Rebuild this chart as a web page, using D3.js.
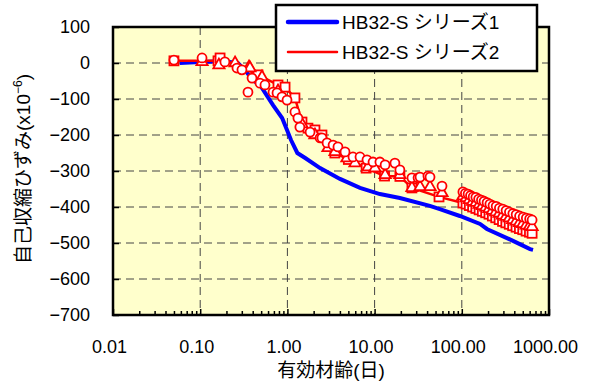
<!DOCTYPE html>
<html>
<head>
<meta charset="utf-8">
<script src="https://cdn.jsdelivr.net/npm/d3@7"></script>
<style>
  body { margin: 0; background: #fff; }
  text { font-family: "Liberation Sans", Arial, "Noto Sans CJK JP", sans-serif; }
</style>
</head>
<body>
<div id="chart"></div>
<script>
// series 1 (blue line)
let blueAge = [0.058, 0.1, 0.18, 0.27, 0.34, 0.40, 0.485, 0.684, 0.87, 1.0, 1.1, 1.3, 1.6, 2.37, 4.01, 6.8, 11.5, 19.5, 43, 56, 95, 162, 194, 387, 606, 656];
let blueVal = [0, 3, 5, 0, -25, -47, -61, -117, -153, -189, -214, -250, -264, -292, -322, -347, -364, -375, -397, -406, -425, -447, -461, -494, -517, -519];

// series 2 (red markers)
let sqAge = [0.050, 0.16, 0.169, 0.46, 0.78, 0.94, 1.22, 1.47, 1.72, 2.07, 2.49, 3.5, 5.0, 8.0, 13.0, 19.5, 26.8, 54.8,
  103, 112, 122, 133, 145, 158, 172, 188, 205, 224, 245, 268, 293, 320, 350, 383, 419, 458, 500, 546, 597, 640];
let sqVal = [6, 6, 14, -33, -61, -67, -97, -164, -181, -186, -200, -250, -268, -292, -314, -315, -347, -372,
  -389, -392, -396, -400, -404, -408, -412, -416, -420, -425, -430, -435, -440, -444, -448, -452, -456, -460, -463, -467, -470, -473];

let triAge = [0.105, 0.164, 0.251, 0.363, 0.372, 0.511, 0.78, 1.47, 2.07, 2.92, 3.52, 4.82, 5.96, 8.4, 10.1, 13.2, 19.5, 26.8, 33.2, 43.2, 59.3,
  103, 112, 122, 133, 145, 158, 172, 188, 205, 224, 245, 268, 293, 320, 350, 383, 419, 458, 500, 546, 597, 640];
let triVal = [3, -6, 0, -11, -14, -39, -78, -170, -200, -236, -247, -264, -278, -289, -292, -311, -311, -347, -344, -344, -361,
  -370, -375, -380, -385, -388, -393, -397, -401, -405, -410, -414, -418, -423, -427, -431, -436, -440, -444, -447, -451, -453, -455];

let cirAge = [0.050, 0.105, 0.192, 0.264, 0.301, 0.353, 0.393, 0.485, 0.553, 0.684, 0.76, 0.867, 0.99, 1.22, 1.32, 1.39, 1.82, 2.37, 2.49, 2.85, 3.34, 3.80, 4.58, 5.65, 6.8, 8.18, 9.59, 11.5, 13.2, 17.1, 19.5, 26.8, 31.5, 33.2, 40.9, 43.2, 59.3,
  103, 110, 118, 126, 135, 145, 156, 168, 180, 195, 210, 228, 248, 270, 295, 322, 352, 385, 420, 460, 505, 550, 600, 640];
let cirVal = [8, 14, 3, -14, -19, -81, -42, -56, -61, -81, -83, -94, -103, -136, -153, -178, -192, -208, -208, -222, -228, -233, -247, -261, -261, -269, -275, -275, -283, -278, -297, -319, -319, -317, -314, -317, -342,
  -358, -362, -364, -368, -372, -373, -378, -381, -384, -388, -392, -396, -398, -403, -406, -410, -414, -418, -421, -425, -428, -431, -433, -436];

let xMajor = [0.01, 0.1, 1, 10, 100, 1000];
let yTicks = [100, 0, -100, -200, -300, -400, -500, -600, -700];
let legendLabels = ["HB32-S シリーズ1", "HB32-S シリーズ2"];

let width = 594, height = 387;
let pLeft = 113, pRight = 549, pTop = 27, pBottom = 315;

let svg = d3.select("#chart").append("svg")
  .attr("width", width).attr("height", height);

let x = d3.scaleLog().domain([0.01, 1000]).range([pLeft, pRight]);
let y = d3.scaleLinear().domain([-700, 100]).range([pBottom, pTop]);

// plot background
svg.append("rect")
  .attr("x", pLeft).attr("y", pTop)
  .attr("width", pRight - pLeft).attr("height", pBottom - pTop)
  .attr("fill", "#ffffcc");

// grid
let grid = svg.append("g").attr("stroke", "#444").attr("stroke-dasharray", "8,5").attr("stroke-width", 1);
grid.selectAll(".gx").data(xMajor.slice(1, -1)).enter().append("line")
  .attr("x1", d => x(d)).attr("x2", d => x(d)).attr("y1", pTop).attr("y2", pBottom);
grid.selectAll(".gy").data(yTicks.slice(1, -1)).enter().append("line")
  .attr("y1", d => y(d)).attr("y2", d => y(d)).attr("x1", pLeft).attr("x2", pRight);

// minor ticks along bottom
let minors = [];
xMajor.slice(0, -1).forEach(m => { for (let k = 2; k <= 9; k++) minors.push(m * k); });

let fs = 18;
let xAxis = svg.append("g").attr("transform", `translate(0,${pBottom})`)
  .call(d3.axisBottom(x).tickValues(xMajor).tickFormat(d3.format(".2f")).tickSize(-6).tickPadding(25));
xAxis.select(".domain").remove();
xAxis.selectAll("text").attr("font-size", fs).attr("dx", -4).attr("fill", "#000");
xAxis.selectAll("line").attr("stroke-width", 1.5);

let xMinor = svg.append("g").attr("transform", `translate(0,${pBottom})`)
  .call(d3.axisBottom(x).tickValues(minors).tickFormat("").tickSize(-4));
xMinor.select(".domain").remove();
xMinor.selectAll("line").attr("stroke-width", 1.5);

let yAxis = svg.append("g").attr("transform", `translate(${pLeft},0)`)
  .call(d3.axisLeft(y).tickValues(yTicks).tickSize(-6).tickPadding(23));
yAxis.select(".domain").remove();
yAxis.selectAll("text").attr("font-size", fs).attr("fill", "#000");
yAxis.selectAll("line").attr("stroke-width", 1.5);

// plot border
svg.append("rect")
  .attr("x", pLeft).attr("y", pTop)
  .attr("width", pRight - pLeft).attr("height", pBottom - pTop)
  .attr("fill", "none").attr("stroke", "#000").attr("stroke-width", 2.5);

// series 1
let line = d3.line().x(d => x(d[0])).y(d => y(d[1]));
svg.append("path")
  .datum(blueAge.map((a, i) => [a, blueVal[i]]))
  .attr("d", line).attr("fill", "none").attr("stroke", "#0000ff").attr("stroke-width", 4);

// series 2
let sq = sqAge.map((a, i) => [a, sqVal[i]]);
let tri = triAge.map((a, i) => [a, triVal[i]]);
let cir = cirAge.map((a, i) => [a, cirVal[i]]);

svg.append("path").datum(sq)
  .attr("d", line).attr("fill", "none").attr("stroke", "#ff0000").attr("stroke-width", 2.5);

let marks = svg.append("g").attr("fill", "#fff").attr("stroke", "#ff0000").attr("stroke-width", 1.8);
marks.selectAll(".sq").data(sq).enter().append("rect")
  .attr("x", d => x(d[0]) - 4.5).attr("y", d => y(d[1]) - 4.5)
  .attr("width", 9).attr("height", 9);
marks.selectAll(".tri").data(tri).enter().append("path")
  .attr("d", d3.symbol().type(d3.symbolTriangle).size(55))
  .attr("transform", d => `translate(${x(d[0])},${y(d[1])})`);
marks.selectAll(".cir").data(cir).enter().append("circle")
  .attr("cx", d => x(d[0])).attr("cy", d => y(d[1])).attr("r", 4.5);

// legend
let lg = svg.append("g");
lg.append("rect").attr("x", 276).attr("y", 5).attr("width", 261).attr("height", 66)
  .attr("fill", "#fff").attr("stroke", "#000").attr("stroke-width", 2.5);
let lcol = ["#0000ff", "#ff0000"], lw = [4.5, 2.5];
legendLabels.forEach((t, i) => {
  let ly = 22 + i * 30;
  lg.append("line").attr("x1", 288).attr("x2", 337).attr("y1", ly).attr("y2", ly)
    .attr("stroke", lcol[i]).attr("stroke-width", lw[i]).attr("stroke-linecap", "round");
  lg.append("text").attr("x", 342).attr("y", ly + 7).attr("font-size", 19).text(t);
});

// axis titles
svg.append("text").attr("x", 331).attr("y", 377).attr("text-anchor", "middle")
  .attr("font-size", 19).text("有効材齢(日)");

let yt = svg.append("text").attr("transform", "translate(30,169) rotate(-90)")
  .attr("text-anchor", "middle").attr("font-size", 19);
yt.append("tspan").text("自己収縮ひずみ(x10");
yt.append("tspan").attr("font-size", 12).attr("dy", -8).text("−6");
yt.append("tspan").attr("dy", 8).text(")");
</script>
</body>
</html>
